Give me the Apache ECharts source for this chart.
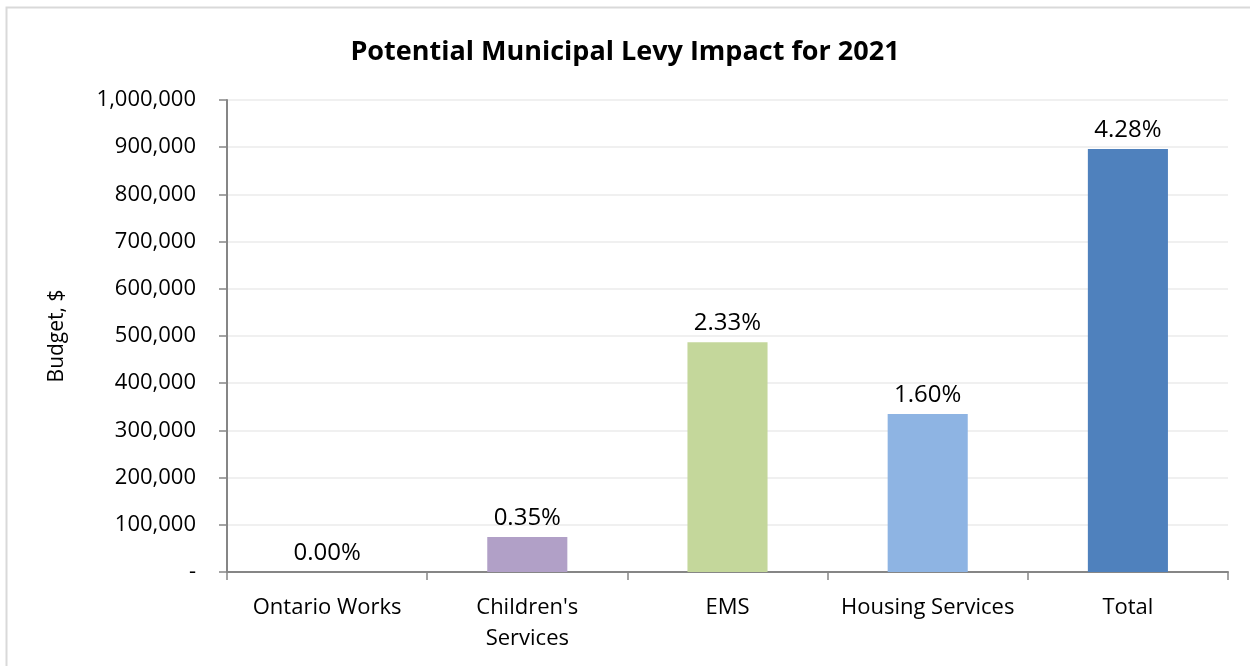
<!DOCTYPE html>
<html>
<head>
<meta charset="utf-8">
<script src="https://cdn.jsdelivr.net/npm/echarts@6/dist/echarts.min.js"></script>
<style>
  html, body { margin: 0; padding: 0; background: #ffffff; }
  #chart { width: 1250px; height: 666px; }
</style>
</head>
<body>
<div id="chart"></div>
<script>
const titleText = 'Potential Municipal Levy Impact for 2021';
const yAxisName = 'Budget, $';
const categories = ['Ontario Works', "Children's\nServices", 'EMS', 'Housing Services', 'Total'];
const budgetValues = [0, 74000, 487000, 335000, 896000];
const levyPercent = ['0.00%', '0.35%', '2.33%', '1.60%', '4.28%'];
const barColors = ['#4F81BD', '#B1A0C7', '#C4D79B', '#8EB4E3', '#4F81BD'];
const yMin = 0, yMax = 1000000, yInterval = 100000;

const FONT = '"Open Sans", Lato, sans-serif';
const chart = echarts.init(document.getElementById('chart'), null, { renderer: 'canvas' });

chart.setOption({
  backgroundColor: '#ffffff',
  animation: false,
  title: {
    text: titleText,
    left: 'center',
    top: 34,
    textStyle: { fontFamily: FONT, fontWeight: 'bold', fontSize: 27, color: '#000000' }
  },
  graphic: [{
    type: 'rect',
    shape: { x: 6.5, y: 7.5, width: 1270, height: 700 },
    style: { fill: 'none', stroke: '#D9D9D9', lineWidth: 2 },
    silent: true
  }],
  grid: { left: 227, right: 22, top: 100, bottom: 94, containLabel: false },
  xAxis: {
    type: 'category',
    data: categories,
    axisLine: { lineStyle: { color: '#868686', width: 2 } },
    axisTick: { show: true, interval: 0, length: 8, lineStyle: { color: '#868686', width: 1.5 } },
    axisLabel: { interval: 0, hideOverlap: false, fontFamily: FONT, fontSize: 22, color: '#000000', margin: 20, lineHeight: 31 }
  },
  yAxis: {
    type: 'value',
    min: yMin, max: yMax, interval: yInterval,
    name: yAxisName,
    nameLocation: 'middle',
    nameGap: 159,
    nameRotate: 90,
    nameTextStyle: { fontFamily: FONT, fontSize: 21, color: '#000000' },
    axisLine: { show: true, lineStyle: { color: '#868686', width: 2 } },
    axisTick: { show: true, length: 8, lineStyle: { color: '#868686', width: 1.5 } },
    splitLine: { show: true, lineStyle: { color: '#F0F0F0', width: 2 } },
    axisLabel: {
      fontFamily: FONT, fontSize: 22, color: '#000000', margin: 31,
      formatter: v => v === 0 ? '-' : v.toLocaleString('en-US')
    }
  },
  series: [{
    type: 'bar',
    barWidth: '40%',
    data: budgetValues.map((v, i) => ({ value: v, itemStyle: { color: barColors[i] } })),
    label: {
      show: true,
      position: 'top',
      distance: 7,
      fontFamily: FONT, fontSize: 24, color: '#000000',
      formatter: p => levyPercent[p.dataIndex]
    }
  }]
});
</script>
</body>
</html>
